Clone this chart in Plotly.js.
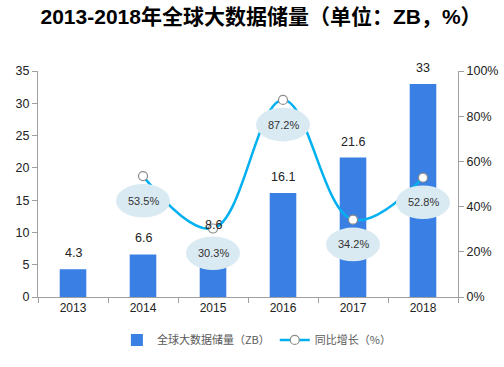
<!DOCTYPE html>
<html>
<head>
<meta charset="utf-8">
<script src="https://cdn.plot.ly/plotly-3.0.1.min.js"></script>
<style>html,body{margin:0;padding:0;background:#fff;}#chart{width:504px;height:367px;}</style>
</head>
<body>
<div id="chart"></div>
<script>
var years = ['2013', '2014', '2015', '2016', '2017', '2018'];
var storage = [4.3, 6.6, 8.6, 16.1, 21.6, 33];
var growthYears = ['2014', '2015', '2016', '2017', '2018'];
var growth = [53.5, 30.3, 87.2, 34.2, 52.8];
var storageLabels = ['4.3', '6.6', '8.6', '16.1', '21.6', '33'];
var growthLabels = ['53.5%', '30.3%', '87.2%', '34.2%', '52.8%'];
var leftTicks = [0, 5, 10, 15, 20, 25, 30, 35];
var rightTicks = [0, 20, 40, 60, 80, 100];
var rightTickText = ['0%', '20%', '40%', '60%', '80%', '100%'];

var fontFam = 'Liberation Sans, Arial, Noto Sans CJK SC, sans-serif';

var traces = [
  {
    type: 'bar', x: years, y: storage, name: '全球大数据储量（ZB）',
    marker: {color: '#3a80e4'}, width: 0.38, hoverinfo: 'none'
  },
  {
    type: 'scatter', mode: 'lines+markers', x: growthYears, y: growth, yaxis: 'y2',
    name: '同比增长（%）',
    line: {color: '#00b0f0', width: 2.5, shape: 'spline', smoothing: 1.1},
    marker: {size: 9, color: '#ffffff', line: {color: '#8c8c8c', width: 1.2}},
    hoverinfo: 'none'
  }
];

// plot area geometry (px) used to size the label ellipses
var plotH = 367 - 71 - 67;
var catW = (504 - 38 - 46) / years.length;
var pxY2 = 100 / plotH;
var pxX = 1 / catW;

var annotations = [];
var shapes = [];
years.forEach(function (yr, i) {
  annotations.push({
    x: i, y: storage[i], xref: 'x', yref: 'y', text: storageLabels[i],
    showarrow: false, yanchor: 'bottom', yshift: 7,
    font: {family: fontFam, size: 12.5, color: '#222'}
  });
});
growthYears.forEach(function (yr, i) {
  var idx = years.indexOf(yr);
  var cy = growth[i] - 25 * pxY2;
  shapes.push({
    type: 'circle', xref: 'x', yref: 'y2',
    x0: idx - 27 * pxX, x1: idx + 27 * pxX,
    y0: cy - 17 * pxY2, y1: cy + 17 * pxY2,
    fillcolor: '#daeaf3', line: {width: 0}, layer: 'above'
  });
  annotations.push({
    x: idx, y: cy, xref: 'x', yref: 'y2', text: growthLabels[i],
    showarrow: false, yanchor: 'middle',
    font: {family: fontFam, size: 11, color: '#333'}
  });
});

var layout = {
  width: 504, height: 367,
  margin: {l: 38, r: 46, t: 71, b: 67},
  paper_bgcolor: '#ffffff', plot_bgcolor: '#ffffff',
  font: {family: fontFam, size: 12, color: '#222'},
  title: {
    text: '<b>2013-2018年全球大数据储量（单位：ZB，%）</b>',
    x: 0.518, xanchor: 'center', y: 0.955, yanchor: 'middle',
    font: {family: 'Liberation Sans, Arial, Noto Sans CJK SC, sans-serif', size: 21, color: '#000'}
  },
  xaxis: {
    type: 'category', categoryorder: 'array', categoryarray: years,
    range: [-0.5, 5.5], autorange: false,
    showgrid: false, showline: true, linecolor: '#a0a0a0', linewidth: 1,
    ticks: 'outside', tickson: 'boundaries', ticklen: 5, tickcolor: '#a0a0a0',
    tickfont: {family: fontFam, size: 12, color: '#222'}
  },
  yaxis: {
    range: [0, 35], autorange: false, tickmode: 'array', tickvals: leftTicks, showgrid: false, zeroline: false,
    showline: true, linecolor: '#a0a0a0', linewidth: 1, ticks: 'outside', ticklen: 5,
    tickcolor: '#a0a0a0', tickfont: {family: fontFam, size: 12.5, color: '#222'}
  },
  yaxis2: {
    range: [0, 100], autorange: false, tickmode: 'array', tickvals: rightTicks, ticktext: rightTickText,
    overlaying: 'y', side: 'right',
    showgrid: false, zeroline: false, showline: true, linecolor: '#a0a0a0', linewidth: 1,
    ticks: 'outside', ticklen: 5, tickcolor: '#a0a0a0',
    tickfont: {family: fontFam, size: 12.5, color: '#222'}
  },
  showlegend: true,
  legend: {
    orientation: 'h', x: 0.52, xanchor: 'center', y: -0.19, yanchor: 'middle',
    font: {family: 'Noto Sans CJK SC, Liberation Sans, sans-serif', size: 11, color: '#595959'},
    itemwidth: 30, bgcolor: 'rgba(0,0,0,0)'
  },
  shapes: shapes,
  annotations: annotations
};

Plotly.newPlot('chart', traces, layout, {displayModeBar: false, staticPlot: true});
</script>
</body>
</html>
